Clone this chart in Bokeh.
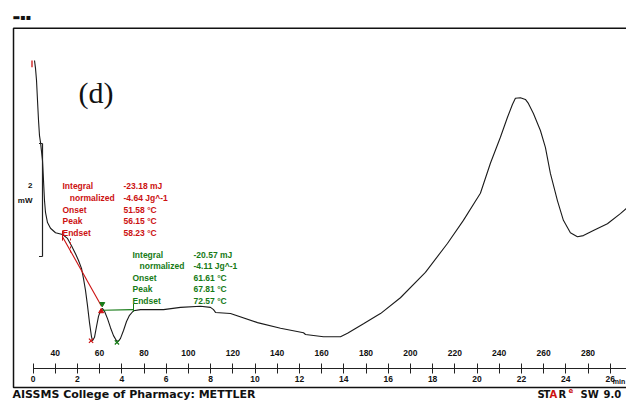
from bokeh.plotting import figure
from bokeh.models import Range1d, LinearAxis, FixedTicker
from bokeh.embed import file_html
from bokeh.resources import INLINE
from bokeh.core.properties import value

# ---------------- data ----------------
temperature_c = [30.68, 31.13, 31.58, 32.03, 32.48, 32.93, 33.38, 34.28, 34.73, 35.18,
                 35.63, 36.53, 37.88, 40.14, 43.29, 45.54, 47.34, 49.14, 50.50, 51.85,
                 52.75, 53.65, 54.55, 55.45, 56.35, 56.80, 57.70, 58.60, 59.50, 60.41,
                 61.31, 62.21, 63.56, 64.91, 66.26, 67.61, 68.51, 69.41, 70.77, 72.12,
                 73.47, 75.27, 78.42, 88.78, 96.44, 105.45, 109.95, 111.31, 112.21, 118.96,
                 131.13, 141.49, 151.85, 152.75, 160.86, 168.51, 171.67, 178.87, 185.18, 186.53,
                 195.50, 206.76, 216.67, 223.87, 231.53, 236.04, 240.54, 243.69, 245.95, 247.30,
                 249.55, 251.80, 253.15, 255.41, 258.56, 260.81, 263.06, 266.22, 268.92, 272.07,
                 275.23, 277.93, 282.43, 288.74, 294.59, 297.30]
heat_flow_mw = [3.47, 3.33, 3.12, 2.76, 2.41, 2.14, 2.02, 1.70, 1.35, 0.99,
                0.78, 0.60, 0.50, 0.42, 0.39, 0.32, 0.19, 0.05, -0.07, -0.21,
                -0.39, -0.60, -0.87, -1.17, -1.42, -1.49, -1.43, -1.24, -1.06, -0.96,
                -0.92, -0.97, -1.10, -1.26, -1.40, -1.49, -1.50, -1.45, -1.31, -1.15,
                -1.04, -0.96, -0.94, -0.94, -0.90, -0.88, -0.90, -0.94, -0.99, -1.01,
                -1.17, -1.27, -1.35, -1.38, -1.42, -1.42, -1.36, -1.19, -1.04, -1.01,
                -0.73, -0.28, 0.23, 0.64, 1.12, 1.65, 2.11, 2.46, 2.69, 2.80,
                2.81, 2.78, 2.71, 2.53, 2.23, 1.93, 1.47, 0.99, 0.64, 0.42,
                0.35, 0.37, 0.46, 0.58, 0.76, 0.85]

start_temp_c = 30.0
heating_rate = 10.0  # K/min

temp_ticks_c = [40, 60, 80, 100, 120, 140, 160, 180, 200, 220, 240, 260, 280]
time_ticks_min = [0, 2, 4, 6, 8, 10, 12, 14, 16, 18, 20, 22, 24, 26]
time_minor_min = [1, 3, 5, 7, 9, 11, 13, 15, 17, 19, 21, 23, 25, 27]

result_labels = ["Integral", "normalized", "Onset", "Peak", "Endset"]
peak1_values = ["-23.18 mJ", "-4.64 Jg^-1", "51.58 °C", "56.15 °C", "58.23 °C"]
peak2_values = ["-20.57 mJ", "-4.11 Jg^-1", "61.61 °C", "67.81 °C", "72.57 °C"]
peak_temps_c = [56.15, 67.81]
peak_flow_mw = [-1.49, -1.52]

# integration baselines
base1_t = [43.29, 60.86]
base1_mw = [0.35, -0.88]
base2_t = [61.31, 75.27]
base2_mw = [-0.95, -0.94]

RED = "#cc1111"
GREEN = "#167a16"
INK = "#111111"
FONT = "Liberation Sans"

# ---------------- figure ----------------
x0, x1 = 15.36, 297.34
y0, y1 = -2.584, 4.531
p = figure(width=626, height=402, x_range=Range1d(x0, x1), y_range=Range1d(y0, y1),
           x_axis_type=None, y_axis_type=None, output_backend="svg",
           toolbar_location=None, min_border=0)
p.outline_line_color = None
p.background_fill_color = "white"
p.border_fill_color = "white"
p.grid.visible = False

AXIS_MW = -1.98
p.extra_x_ranges = {"time": Range1d((x0 - start_temp_c) / heating_rate,
                                    (x1 - start_temp_c) / heating_rate)}

time_axis = LinearAxis(x_range_name="time", fixed_location=AXIS_MW,
                       ticker=FixedTicker(ticks=time_ticks_min, minor_ticks=time_minor_min),
                       bounds=(0, 27))
time_axis.axis_line_color = "#222222"
time_axis.major_tick_in = 5
time_axis.major_tick_out = 5
time_axis.minor_tick_in = 5
time_axis.minor_tick_out = 5
time_axis.major_tick_line_color = "#222222"
time_axis.minor_tick_line_color = "#222222"
time_axis.major_label_standoff = 3
time_axis.major_label_text_font = FONT
time_axis.major_label_text_font_size = "8.5px"
time_axis.major_label_text_font_style = "bold"
time_axis.major_label_text_color = INK
p.add_layout(time_axis, "below")

temp_axis = LinearAxis(fixed_location=AXIS_MW, ticker=FixedTicker(ticks=temp_ticks_c))
temp_axis.axis_line_color = None
temp_axis.major_tick_in = 0
temp_axis.major_tick_out = 0
temp_axis.minor_tick_line_color = None
temp_axis.major_label_standoff = 12
temp_axis.major_label_text_font = FONT
temp_axis.major_label_text_font_size = "8.5px"
temp_axis.major_label_text_font_style = "bold"
temp_axis.major_label_text_color = INK
p.add_layout(temp_axis, "above")

# frame box (left, top, bottom)
BOX_L, BOX_T, BOX_B, BOX_R = 21.22, 4.04, -2.32, 300.0
p.line([BOX_R, BOX_L, BOX_L, BOX_R], [BOX_T, BOX_T, BOX_B, BOX_B], line_color=INK, line_width=1.5)

# curve
p.line(temperature_c, heat_flow_mw, line_color="#1a1a1a", line_width=1.1)

# start marker
p.segment(x0=[29.55], y0=[3.47], x1=[29.55], y1=[3.35], line_color=RED, line_width=1.3)

# scale bar 2 mW
SB_T = 34.28
p.segment(x0=[SB_T, SB_T, SB_T], y0=[0, 0, 2], x1=[SB_T, 32.7, 32.7], y1=[2, 0, 2],
          line_color="#222222", line_width=1.2)
p.text(x=[29.77, 29.77], y=[1.25, 0.99], text=["2", "mW"], text_align="right",
       text_baseline="middle", text_font=value(FONT), text_font_size=value("8px"),
       text_font_style="bold", text_color=INK)

# evaluation constructions
p.line(base1_t, base1_mw, line_color=RED, line_width=1.1)
p.line(base2_t, base2_mw, line_color=GREEN, line_width=1.1)
p.segment(x0=[43.29], y0=[0.46], x1=[43.29], y1=[0.28], line_color=RED, line_width=1)
p.segment(x0=[46.89], y0=[0.32], x1=[46.89], y1=[0.05], line_color=RED, line_width=1, line_dash="2 2")
p.segment(x0=[75.27], y0=[-0.84], x1=[75.27], y1=[-0.98], line_color=GREEN, line_width=1)
p.scatter([60.7], [-0.97], marker="triangle", size=5, color=RED)
p.scatter([61.2], [-0.84], marker="inverted_triangle", size=5, color=GREEN)
p.scatter([peak_temps_c[0]], [peak_flow_mw[0]], marker="x", size=6, line_color=RED, line_width=1.2)
p.scatter([peak_temps_c[1]], [peak_flow_mw[1]], marker="x", size=6, line_color=GREEN, line_width=1.2)

# result tables
def table(lx, indent_x, vx, ytop, values, color):
    ys = [ytop - i * 0.205 for i in range(len(result_labels))]
    xs = [indent_x if lab == "normalized" else lx for lab in result_labels]
    p.text(x=xs, y=ys, text=result_labels, text_align="left", text_baseline="middle",
           text_font=value(FONT), text_font_size=value("8.5px"), text_font_style="bold",
           text_color=color)
    p.text(x=[vx] * len(values), y=ys, text=values, text_align="left", text_baseline="middle",
           text_font=value(FONT), text_font_size=value("8.5px"), text_font_style="bold",
           text_color=color)

table(43.29, 46.58, 70.77, 1.24, peak1_values, RED)
table(74.82, 77.97, 102.30, 0.035, peak2_values, GREEN)

# panel label
p.text(x=[50.5], y=[2.90], text=["(d)"], text_align="left", text_baseline="middle",
       text_font=value("Liberation Serif"), text_font_size=value("30px"), text_color=INK)

# unit after last time tick
p.text(x=[291.2], y=[-2.21], text=["min"], text_align="left", text_baseline="middle",
       text_font=value(FONT), text_font_size=value("7px"), text_font_style="bold",
       text_color=INK)

# top-left glyphs
p.text(x=[20.77], y=[4.23], text=["\u25ac\u25aa\u25aa"], text_align="left", text_baseline="middle",
       text_font=value("DejaVu Sans"), text_font_size=value("8px"), text_color=INK)

# footer
FOOT_MW = -2.44
p.text(x=[20.77], y=[FOOT_MW], text=["AISSMS College of Pharmacy: METTLER"], text_align="left",
       text_baseline="middle", text_font=value("DejaVu Sans"), text_font_size=value("11px"),
       text_font_style="bold", text_color=INK)
foot_x = [257.25, 259.95, 262.66, 266.71, 271.22, 276.62, 286.98]
foot_y = [FOOT_MW, FOOT_MW, FOOT_MW, FOOT_MW, FOOT_MW + 0.07, FOOT_MW, FOOT_MW]
foot_txt = ["S", "T", "A", "R", "e", "SW", "9.0"]
foot_col = [INK, INK, RED, INK, RED, INK, INK]
foot_size = ["10px", "10px", "10px", "10px", "7px", "10px", "10px"]
p.text(x=foot_x, y=foot_y, text=foot_txt, text_align="left", text_baseline="middle",
       text_font=value("DejaVu Sans"), text_font_size=foot_size,
       text_font_style="bold", text_color=foot_col)

open("out.html", "w").write(file_html(p, INLINE))
